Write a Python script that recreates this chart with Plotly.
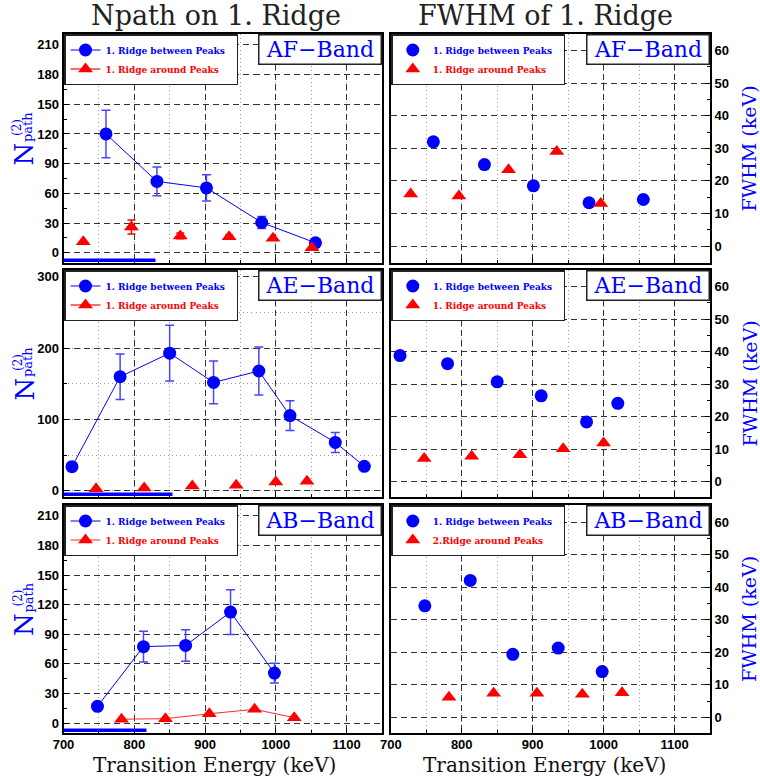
import plotly.graph_objects as go

# ---------------- data ----------------
# AF-Band
af_np_x_between = [760, 832, 902, 980, 1056]
af_np_between = [120, 72, 65.5, 30.5, 10]
af_np_between_err = [24, 14.5, 13.3, 6, 0]
af_np_x_around = [728, 796, 865, 934, 996, 1051]
af_np_around = [11, 26, 17, 16, 14.5, 5]
af_np_around_err = [0, 7, 3, 2, 0, 0]

af_fw_x_between = [760, 832, 901, 979.5, 1056]
af_fw_between = [32, 25, 18.5, 13.3, 14.3]
af_fw_x_around = [728, 796, 866, 934, 996]
af_fw_around = [16.0, 15.4, 23.4, 29.0, 13.1]

# AE-Band
ae_np_x_between = [712, 780, 850, 912, 976, 1020, 1084, 1125]
ae_np_between = [34, 160, 193, 152, 168, 105.5, 68, 34.5]
ae_np_between_err = [0, 32, 39, 30, 33.5, 21, 14, 0]
ae_np_x_around = [746, 814, 882, 944, 1000, 1044]
ae_np_around = [3, 4, 7, 8, 12.5, 13.5]

ae_fw_x_between = [713, 780, 850, 912, 976, 1020]
ae_fw_between = [38.8, 36.3, 30.7, 26.4, 18.4, 24.1]
ae_fw_x_around = [747, 814, 882, 943, 1000]
ae_fw_around = [7.1, 7.8, 8.3, 10.1, 11.9]

# AB-Band
ab_np_x_between = [748, 813, 872.5, 936, 998]
ab_np_between = [17, 77.5, 78.7, 112.5, 50.7]
ab_np_between_err = [0, 15.5, 16, 22.6, 10]
ab_np_x_around = [782, 844, 906, 970, 1026]
ab_np_around = [4, 4.5, 9.5, 14, 5.5]

ab_fw_x_between = [748, 812, 872, 936, 998]
ab_fw_between = [34.3, 42.1, 19.4, 21.3, 14.1]
ab_fw_x_around = [782, 845, 906, 970, 1026]
ab_fw_around = [6.2, 7.4, 7.4, 7.1, 7.6]

bands = ["AF\u2212Band", "AE\u2212Band", "AB\u2212Band"]
left_ticks = [list(range(0, 211, 30)), [0, 100, 200, 300], list(range(0, 211, 30))]
right_ticks = list(range(0, 61, 10))
x_ticks = [700, 800, 900, 1000, 1100]
name_between = "1. Ridge between Peaks"
name_around = ["1. Ridge around Peaks", "1. Ridge around Peaks", "1. Ridge around Peaks"]
name_around_fw = ["1. Ridge around Peaks", "1. Ridge around Peaks", "2.Ridge around Peaks"]

# ---------------- layout geometry ----------------
W, H = 760, 778
def fx(p): return p / W
def fy(p): return 1 - p / H

col_px = [(63.5, 382.0), (390.8, 710.0)]
row_px = [(34, 263), (270, 497), (505, 733)]
left_ranges = [[-10.4, 221], [-8.5, 309.5], [-10, 221]]
right_ranges = [[-5.2, 65.1], [-4.7, 65.1], [-4.8, 65.3]]

BLUE = "#0000ff"
RED = "#ff0000"
SERIF = "DejaVu Serif"
SANS = "Liberation Sans"

np_sets = [
    (af_np_x_between, af_np_between, af_np_between_err, af_np_x_around, af_np_around, af_np_around_err),
    (ae_np_x_between, ae_np_between, ae_np_between_err, ae_np_x_around, ae_np_around, None),
    (ab_np_x_between, ab_np_between, ab_np_between_err, ab_np_x_around, ab_np_around, None),
]
fw_sets = [
    (af_fw_x_between, af_fw_between, af_fw_x_around, af_fw_around),
    (ae_fw_x_between, ae_fw_between, ae_fw_x_around, ae_fw_around),
    (ab_fw_x_between, ab_fw_between, ab_fw_x_around, ab_fw_around),
]

fig = go.Figure()
layout = dict(
    template="none",
    width=W, height=H, margin=dict(l=0, r=0, t=0, b=0, autoexpand=False),
    paper_bgcolor="white", plot_bgcolor="white", showlegend=True,
)
annotations = []
shapes = []

def lbl(text, color):
    return '<span style="color:%s"><b>%s</b></span>&nbsp;&nbsp;' % (color, text)

tickfont = dict(family=SANS, size=13, color="black", weight="bold")

for r in range(3):
    for c in range(2):
        k = r * 2 + c + 1
        xa = "x" if k == 1 else "x%d" % k
        ya = "y" if k == 1 else "y%d" % k
        xkey = "xaxis" if k == 1 else "xaxis%d" % k
        ykey = "yaxis" if k == 1 else "yaxis%d" % k
        legkey = "legend" if k == 1 else "legend%d" % k
        x0p, x1p = col_px[c]
        y0p, y1p = row_px[r]
        layout[xkey] = dict(
            domain=[fx(x0p), fx(x1p)], anchor=ya, range=[700, 1150], automargin=False,
            tickmode="array", tickvals=x_ticks, showticklabels=(r == 2),
            tickfont=tickfont, ticks="inside", ticklen=5, tickcolor="black",
            ticklabelstandoff=-2,
            showline=True, mirror=True, linecolor="black", linewidth=2,
            showgrid=True, gridcolor="#333333", gridwidth=1, griddash="6px,4px",
            zeroline=False,
            minor=dict(dtick=50, tick0=700, showgrid=True, gridcolor="#9a9a9a",
                       griddash="1px,3px", gridwidth=1, ticks="inside", ticklen=3,
                       tickcolor="black"),
        )
        ydict = dict(
            domain=[fy(y1p), fy(y0p)], anchor=xa, automargin=False,
            tickfont=tickfont, ticks="inside", ticklen=5, tickcolor="black",
            showline=True, mirror=True, linecolor="black", linewidth=2,
            showgrid=True, gridcolor="#333333", gridwidth=1, griddash="6px,4px",
            zeroline=False, tickmode="array",
        )
        if c == 0:
            ydict.update(range=left_ranges[r], tickvals=left_ticks[r], side="left")
            if r == 1:
                ydict["minor"] = dict(dtick=50, tick0=0, showgrid=True, gridcolor="#9a9a9a",
                                      griddash="1px,3px", gridwidth=1, ticks="inside",
                                      ticklen=3, tickcolor="black")
            else:
                ydict["minor"] = dict(dtick=15, tick0=0, showgrid=False, ticks="inside",
                                      ticklen=3, tickcolor="black")
        else:
            ydict.update(range=right_ranges[r], tickvals=right_ticks, side="right")
            ydict["minor"] = dict(dtick=5, tick0=0, showgrid=False, ticks="inside",
                                  ticklen=3, tickcolor="black")
        layout[ykey] = ydict

        layout[legkey] = dict(
            x=fx(x0p + 0.5), y=fy(y0p), xanchor="left", yanchor="top",
            bgcolor="white", bordercolor="#222222", borderwidth=1.5,
            font=dict(family=SERIF, size=9, color="black"),
            tracegroupgap=0, itemsizing="trace",
        )

        if c == 0:
            xb, yb, eb, xr, yr, er = np_sets[r]
            fig.add_trace(go.Scatter(
                x=xb, y=yb, mode="lines+markers", name=lbl(name_between, BLUE),
                xaxis=xa, yaxis=ya, legend=legkey,
                line=dict(color=BLUE, width=1),
                marker=dict(symbol="circle", size=13, color=BLUE),
                error_y=dict(type="data", array=eb, visible=True, color="#4646ff",
                             thickness=1.5, width=4.5),
            ))
            if r == 2:
                fig.add_trace(go.Scatter(
                    x=xr, y=yr, mode="lines+markers", name=lbl(name_around[r], RED),
                    xaxis=xa, yaxis=ya, legend=legkey,
                    line=dict(color="#ff2a2a", width=1),
                    marker=dict(symbol="triangle-up", size=13, color=RED),
                ))
            else:
                fig.add_trace(go.Scatter(
                    x=xr, y=yr, mode="markers", name=lbl(name_around[r], RED),
                    xaxis=xa, yaxis=ya, legend=legkey, showlegend=False,
                    marker=dict(symbol="triangle-up", size=13, color=RED),
                    error_y=(dict(type="data", array=er, visible=True, color=RED,
                                  thickness=1.5, width=4) if er is not None else None),
                ))
                fig.add_trace(go.Scatter(
                    x=[None], y=[None], mode="lines+markers", name=lbl(name_around[r], RED),
                    xaxis=xa, yaxis=ya, legend=legkey,
                    line=dict(color="#ff6a6a", width=2),
                    marker=dict(symbol="triangle-up", size=13, color=RED),
                ))
        else:
            xb, yb, xr, yr = fw_sets[r]
            fig.add_trace(go.Scatter(
                x=xb, y=yb, mode="markers", name=lbl(name_between, BLUE),
                xaxis=xa, yaxis=ya, legend=legkey,
                marker=dict(symbol="circle", size=13, color=BLUE),
            ))
            fig.add_trace(go.Scatter(
                x=xr, y=yr, mode="markers", name=lbl(name_around_fw[r], RED),
                xaxis=xa, yaxis=ya, legend=legkey,
                marker=dict(symbol="triangle-up", size=13, color=RED),
            ))

        # band label box
        annotations.append(dict(
            text=bands[r], xref="paper", yref="paper",
            x=fx(x1p), y=fy(y0p), xanchor="right", yanchor="top",
            showarrow=False, font=dict(family=SERIF, size=22, color=BLUE),
            bgcolor="white", bordercolor="#222222", borderwidth=1.5,
            width=119, height=26, borderpad=1,
        ))

        cy = (y0p + y1p) / 2
        if c == 0:
            annotations.append(dict(
                text="N", xref="paper", yref="paper", x=fx(24), y=fy(cy + 6),
                xanchor="center", yanchor="middle", textangle=-90, showarrow=False,
                font=dict(family=SERIF, size=26, color=BLUE)))
            annotations.append(dict(
                text="(2)", xref="paper", yref="paper", x=fx(17.5), y=fy(cy - 21),
                xanchor="center", yanchor="middle", textangle=-90, showarrow=False,
                font=dict(family=SERIF, size=12, color=BLUE)))
            annotations.append(dict(
                text="path", xref="paper", yref="paper", x=fx(27.5), y=fy(cy - 21),
                xanchor="center", yanchor="middle", textangle=-90, showarrow=False,
                font=dict(family=SERIF, size=13, color=BLUE)))
        else:
            annotations.append(dict(
                text="FWHM (keV)", xref="paper", yref="paper", x=fx(749), y=fy(cy),
                xanchor="center", yanchor="middle", textangle=-90, showarrow=False,
                font=dict(family=SERIF, size=19, color=BLUE)))

# blue strips at the bottom-left of the Npath panels
strip_ends = [155.5, 172.5, 146.5]
for r in range(3):
    y1p = row_px[r][1]
    shapes.append(dict(type="rect", xref="paper", yref="paper",
                       x0=fx(63.5), x1=fx(strip_ends[r]), y0=fy(y1p - 1), y1=fy(y1p - 4.5),
                       fillcolor=BLUE, line=dict(width=0), layer="above"))

# column titles and axis titles
annotations.append(dict(text="Npath on 1. Ridge", xref="paper", yref="paper",
                        x=fx(216), y=fy(16), xanchor="center", yanchor="middle",
                        showarrow=False, font=dict(family=SERIF, size=27, color="#222222")))
annotations.append(dict(text="FWHM of 1. Ridge", xref="paper", yref="paper",
                        x=fx(545), y=fy(16), xanchor="center", yanchor="middle",
                        showarrow=False, font=dict(family=SERIF, size=27, color="#222222")))
for xc in (214, 544):
    annotations.append(dict(text="Transition Energy (keV)", xref="paper", yref="paper",
                            x=fx(xc), y=fy(765), xanchor="center", yanchor="middle",
                            showarrow=False, font=dict(family=SERIF, size=20, color="#111111")))

layout["annotations"] = annotations
layout["shapes"] = shapes
fig.update_layout(**layout)
fig.write_html("out.html", config={"displayModeBar": False},
               post_script="document.body.style.margin='0';document.body.style.padding='0';")
